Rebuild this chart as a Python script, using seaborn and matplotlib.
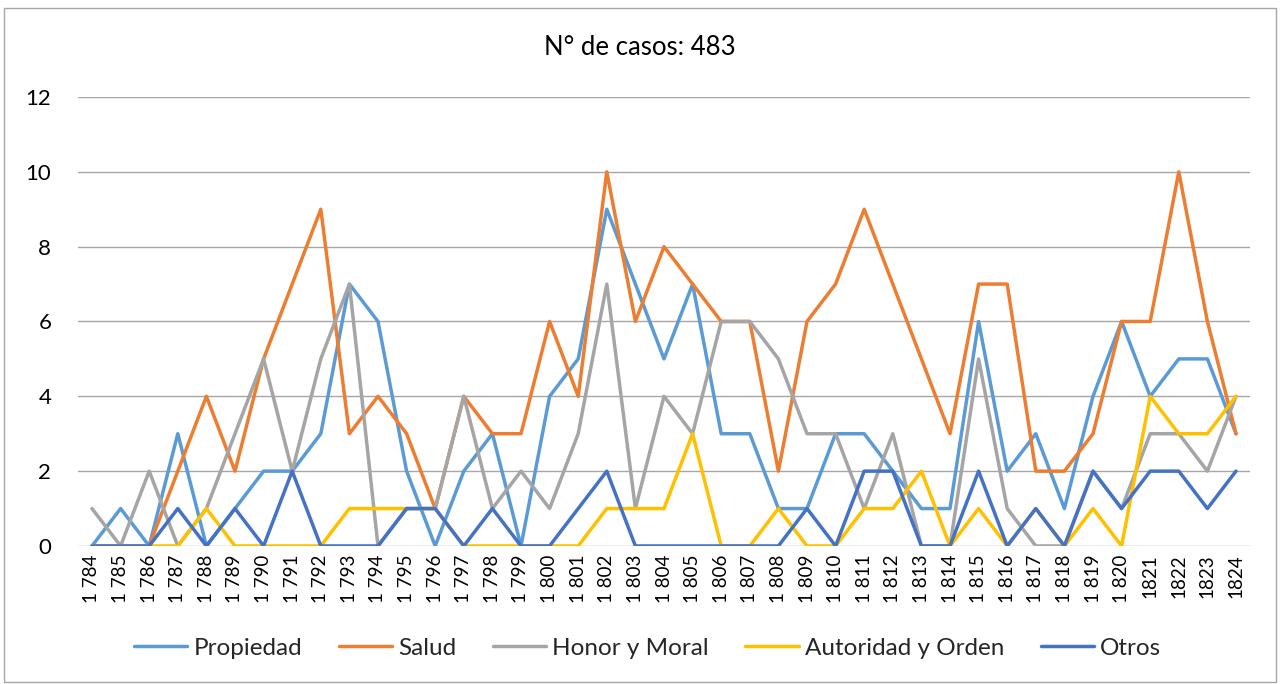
import matplotlib
matplotlib.use("Agg")
import matplotlib.pyplot as plt
import seaborn as sns
import pandas as pd
from matplotlib.patches import Rectangle

# Casos por año y tipo de delito, 1784-1824
years = list(range(1784, 1825))
year_labels = [f"1 {str(y)[1:]}" if y <= 1820 else str(y) for y in years]

propiedad = [0, 1, 0, 3, 0, 1, 2, 2, 3, 7, 6, 2, 0, 2, 3, 0, 4, 5, 9, 7, 5,
             7, 3, 3, 1, 1, 3, 3, 2, 1, 1, 6, 2, 3, 1, 4, 6, 4, 5, 5, 3]
salud = [0, 0, 0, 2, 4, 2, 5, 7, 9, 3, 4, 3, 1, 4, 3, 3, 6, 4, 10, 6, 8,
         7, 6, 6, 2, 6, 7, 9, 7, 5, 3, 7, 7, 2, 2, 3, 6, 6, 10, 6, 3]
honor_moral = [1, 0, 2, 0, 1, 3, 5, 2, 5, 7, 0, 1, 1, 4, 1, 2, 1, 3, 7, 1, 4,
               3, 6, 6, 5, 3, 3, 1, 3, 0, 0, 5, 1, 0, 0, 2, 1, 3, 3, 2, 4]
autoridad_orden = [0, 0, 0, 0, 1, 0, 0, 0, 0, 1, 1, 1, 1, 0, 0, 0, 0, 0, 1, 1, 1,
                   3, 0, 0, 1, 0, 0, 1, 1, 2, 0, 1, 0, 1, 0, 1, 0, 4, 3, 3, 4]
otros = [0, 0, 0, 1, 0, 1, 0, 2, 0, 0, 0, 1, 1, 0, 1, 0, 0, 1, 2, 0, 0,
         0, 0, 0, 0, 1, 0, 2, 2, 0, 0, 2, 0, 1, 0, 2, 1, 2, 2, 1, 2]

series_names = ["Propiedad", "Salud", "Honor y Moral", "Autoridad y Orden", "Otros"]
series_values = [propiedad, salud, honor_moral, autoridad_orden, otros]
series_colors = ["#5B9BD5", "#ED7D31", "#A5A5A5", "#FFC000", "#4472C4"]
total_casos = sum(sum(v) for v in series_values)

rows = []
for name, vals in zip(series_names, series_values):
    for i, v in enumerate(vals):
        rows.append({"pos": i, "tipo": name, "casos": v})
df = pd.DataFrame(rows)

sns.set_theme(style="white")
plt.rcParams["font.family"] = ["Lato", "DejaVu Sans"]

fig = plt.figure(figsize=(12.8, 6.84), dpi=100)
ax = fig.add_axes([0.0607, 0.2018, 0.9161, 0.6564])

sns.lineplot(data=df, x="pos", y="casos", hue="tipo", hue_order=series_names,
             palette=series_colors, linewidth=2.5, ax=ax, legend=True,
             estimator=None, sort=False)

ax.set_xlim(-0.5, len(years) - 0.5)
ax.set_ylim(0, 12)
ax.set_yticks(range(0, 13, 2))
ax.set_yticklabels([str(v) for v in range(0, 13, 2)], fontsize=16, color="#000000")
ax.set_xticks(range(len(years)))
ax.set_xticklabels(year_labels, rotation=90, fontsize=13.5, color="#000000")
ax.tick_params(axis="both", length=0)
ax.tick_params(axis="y", pad=19)
ax.tick_params(axis="x", pad=6)
ax.set_xlabel("")
ax.set_ylabel("")
for s in ax.spines.values():
    s.set_visible(False)
ax.yaxis.grid(True, color="#A6A6A6", linewidth=1.0)
ax.xaxis.grid(False)
ax.set_axisbelow(True)

handles, labels = ax.get_legend_handles_labels()
ax.get_legend().remove()
fig.legend(handles, labels, loc="center", bbox_to_anchor=(0.506, 0.052),
           ncol=5, frameon=False, fontsize=17.5, handlelength=2.2,
           handletextpad=0.25, columnspacing=1.5)

fig.text(0.5, 0.931, f"N° de casos: {total_casos}", ha="center", va="center",
         fontsize=18.5, color="#000000")

# marco exterior del gráfico
fig.patches.append(Rectangle((0.003, 0.003), 0.994, 0.985, transform=fig.transFigure,
                             fill=False, edgecolor="#A6A6A6", linewidth=1.0))

fig.savefig("out.png", dpi=100)
